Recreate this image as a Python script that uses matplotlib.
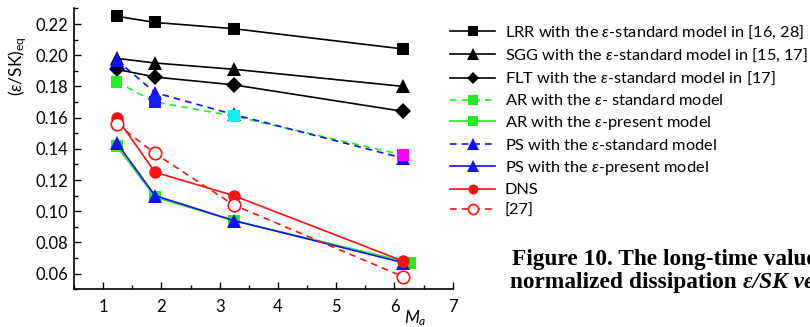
import matplotlib.pyplot as plt
from matplotlib.ticker import MultipleLocator

plt.rcParams['font.family'] = ['Lato', 'DejaVu Sans']
plt.rcParams['mathtext.fontset'] = 'custom'
plt.rcParams['mathtext.rm'] = 'Lato'
plt.rcParams['mathtext.it'] = 'Lato:italic'

# Mach numbers of the runs
ma = [1.23, 1.89, 3.24, 6.15]
ma_ar_present = [1.23, 1.89, 3.24, 6.27]

lrr = [0.225, 0.221, 0.217, 0.204]
sgg = [0.198, 0.195, 0.191, 0.180]
flt = [0.191, 0.186, 0.181, 0.164]
ar_standard = [0.183, 0.170, 0.161, 0.136]
ar_present = [0.142, 0.109, 0.094, 0.067]
ps_standard = [0.197, 0.176, 0.162, 0.134]
ps_present = [0.144, 0.110, 0.094, 0.067]
dns = [0.160, 0.125, 0.110, 0.068]
ref27 = [0.156, 0.137, 0.104, 0.058]

ar_standard_marker_colors = ['#22ee22', '#1a1aff', '#11eeee', '#ff00ff']

GREEN = '#22ee22'
BLUE = '#1010ff'
RED = '#ff1010'
dash = (0, (4, 3))

fig = plt.figure(figsize=(8.1, 3.27), dpi=100)
ax = fig.add_axes([0.0914, 0.1156, 0.4675, 0.8587])

lw = 1.2
ax.plot(ma, lrr, color='black', lw=lw, marker='s', ms=8.5, mew=0,
        label=r'LRR with the $\mathit{\varepsilon}$-standard model in [16, 28]')
ax.plot(ma, sgg, color='black', lw=lw, marker='^', ms=10, mew=0,
        label=r'SGG with the $\mathit{\varepsilon}$-standard model in [15, 17]')
ax.plot(ma, flt, color='black', lw=lw, marker='D', ms=8, mew=0,
        label=r'FLT with the $\mathit{\varepsilon}$-standard model in [17]')

# AR standard: green in the legend, per-point marker colours on the axes
ax.plot(ma, ar_standard, color=GREEN, lw=lw, ls=dash)
ax.scatter(ma, ar_standard, marker='s', s=72, c=ar_standard_marker_colors,
           linewidths=0, zorder=3)
ax.plot([], [], color=GREEN, lw=lw, ls=dash, marker='s', ms=8.5, mew=0,
        label=r'AR with the $\mathit{\varepsilon}$- standard model')
ax.plot(ma_ar_present, ar_present, color=GREEN, lw=lw, marker='s', ms=8.5, mew=0,
        label=r'AR with the $\mathit{\varepsilon}$-present model')
ax.plot(ma, ps_standard, color=BLUE, lw=lw, ls=dash, marker='^', ms=10, mew=0,
        label=r'PS with the $\mathit{\varepsilon}$-standard model')
ax.plot(ma, ps_present, color=BLUE, lw=lw, marker='^', ms=10, mew=0,
        label=r'PS with the $\mathit{\varepsilon}$-present model')
ax.plot(ma, dns, color=RED, lw=lw, marker='o', ms=9, mew=0, label='DNS')
ax.plot(ma, ref27, color=RED, lw=lw, ls=dash, marker='o', ms=9, mfc='white',
        mec=RED, mew=1.2, label='[27]')

ax.set_xlim(0.5, 7)
ax.set_ylim(0.05, 0.23)
ax.xaxis.set_major_locator(MultipleLocator(1))
ax.xaxis.set_minor_locator(MultipleLocator(0.5))
ax.yaxis.set_minor_locator(MultipleLocator(0.01))
ax.set_xticks([1, 2, 3, 4, 5, 6, 7])
ax.set_yticks([0.06, 0.08, 0.10, 0.12, 0.14, 0.16, 0.18, 0.20, 0.22])
ax.yaxis.set_major_formatter(plt.FuncFormatter(lambda v, p: '%.2f' % v))
ax.tick_params(which='both', direction='in', labelsize=12, width=1)
ax.tick_params(which='major', length=5, pad=4)
ax.tick_params(axis='x', which='major', pad=7)
ax.tick_params(which='minor', length=3)
ax.spines['top'].set_visible(False)
ax.spines['right'].set_visible(False)
for s in ('left', 'bottom'):
    ax.spines[s].set_linewidth(1.2)

fig.text(0.022, 0.798, r'$(\mathit{\varepsilon}/\mathrm{SK})_{\mathrm{eq}}$',
         rotation=90, fontsize=12.5, ha='center', va='center')
fig.text(0.513, 0.028, r'$\mathit{M}_{\mathit{a}}$', fontsize=12.5, ha='center', va='center')

fig.legend(loc='upper left', bbox_to_anchor=(0.5556, 0.927), frameon=False,
           fontsize=11.8, handlelength=2.75, handletextpad=0.6, labelspacing=0.36,
           markerscale=0.8, borderaxespad=0, borderpad=0)

# caption lines of the figure, running off the right edge
cap = dict(family='Liberation Serif', fontweight='bold', fontsize=16.8, va='baseline')
fig.text(0.632, 0.190, 'Figure 10. The long-time value of the', ha='left', **cap)
t = fig.text(0.630, 0.119, 'normalized dissipation ', ha='left', **cap)
fig.canvas.draw()
bb = t.get_window_extent()
fig.text(bb.x1 / fig.bbox.width, 0.119, 'ε/SK versus', ha='left', style='italic', **cap)

fig.savefig('out.png', dpi=100)
